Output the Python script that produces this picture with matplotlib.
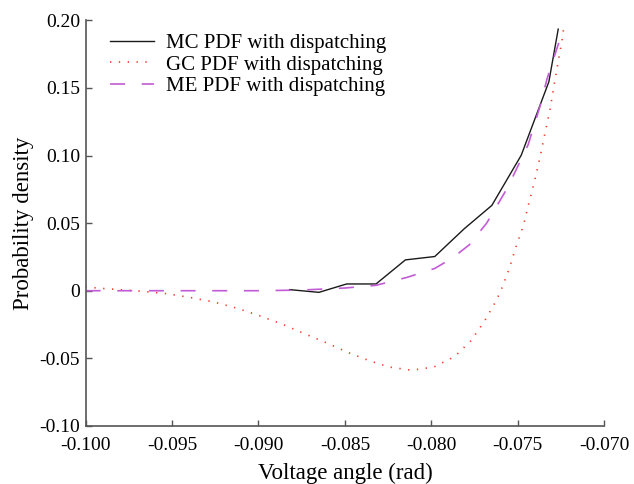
import numpy as np
import matplotlib.pyplot as plt

plt.rcParams['font.family'] = ['Liberation Serif', 'DejaVu Serif']

# MC PDF with dispatching (histogram-like, solid black)
mc_x = [-0.0882, -0.0865, -0.0849, -0.0832, -0.0815, -0.0798, -0.0781,
        -0.0765, -0.0748, -0.0732, -0.07266]
mc_y = [0.0008, -0.0012, 0.0050, 0.0050, 0.0228, 0.0253, 0.0458,
        0.0631, 0.1002, 0.1546, 0.1935]

# GC PDF with dispatching (dotted red)
gc_x = [-0.1000, -0.09935, -0.09665, -0.0953, -0.09395, -0.0926, -0.09134,
        -0.09008, -0.08854, -0.08728, -0.08602, -0.08481, -0.08356, -0.08246,
        -0.08114, -0.07985, -0.07865, -0.07772, -0.07695, -0.07627, -0.07598,
        -0.0755, -0.07511, -0.07467, -0.07434, -0.07401, -0.07371, -0.07343,
        -0.07314, -0.07293, -0.0727, -0.07245, -0.07235]
gc_y = [0.0030, 0.0020, -0.0005, -0.0022, -0.0050, -0.0083, -0.0126,
        -0.0178, -0.0252, -0.0321, -0.0388, -0.0457, -0.0519, -0.0564,
        -0.0588, -0.0564, -0.0487, -0.0371, -0.0230, -0.0079, 0.0000,
        0.0161, 0.0322, 0.0483, 0.0656, 0.0822, 0.0990, 0.1163,
        0.1336, 0.1497, 0.1670, 0.1843, 0.1935]

# ME PDF with dispatching (dashed magenta)
me_x = [-0.1000, -0.0950, -0.0900, -0.0875, -0.0850, -0.0832, -0.0814,
        -0.0798, -0.0788, -0.0778, -0.0768, -0.0756, -0.0744, -0.0737,
        -0.0733, -0.0727, -0.07235]
me_y = [0.0, 0.0, 0.0, 0.0005, 0.0020, 0.0040, 0.0099,
        0.0165, 0.0240, 0.0340, 0.0500, 0.0760, 0.1080, 0.1370,
        0.1570, 0.1806, 0.1935]

xticks = [-0.100, -0.095, -0.090, -0.085, -0.080, -0.075, -0.070]
xticklabels = ['-0.100', '-0.095', '-0.090', '-0.085', '-0.080', '-0.075', '-0.070']
yticks = [-0.10, -0.05, 0.0, 0.05, 0.10, 0.15, 0.20]
yticklabels = ['-0.10', '-0.05', '0', '0.05', '0.10', '0.15', '0.20']

fig = plt.figure(figsize=(6.34, 4.84), dpi=100)
ax = fig.add_axes([0.135, 0.120, 0.818, 0.838])

ax.plot(mc_x, mc_y, color='#1a1a1a', lw=1.0, label='MC PDF with dispatching')
ax.plot(gc_x, gc_y, color='#f03c28', lw=1.2, linestyle=(0, (0.8, 4.5)),
        label='GC PDF with dispatching')
ax.plot(me_x, me_y, color='#c25bd6', lw=1.2, linestyle=(0, (9, 10)),
        label='ME PDF with dispatching')

ax.set_xlim(-0.100, -0.070)
ax.set_ylim(-0.10, 0.20)
ax.set_xticks(xticks)
ax.set_xticklabels(xticklabels)
ax.set_yticks(yticks)
ax.set_yticklabels(yticklabels)
ax.tick_params(direction='in', length=4, width=1, color='#555555',
               labelsize=14, pad=4)
ax.tick_params(axis='x', pad=8)

for s in ['top', 'right']:
    ax.spines[s].set_visible(False)
for s in ['left', 'bottom']:
    ax.spines[s].set_color('#555555')
    ax.spines[s].set_linewidth(1.2)

ax.set_xlabel('Voltage angle (rad)', fontsize=16.5, labelpad=6)
ax.set_ylabel('Probability density', fontsize=16.5, labelpad=4)

ax.legend(loc='upper left', bbox_to_anchor=(0.048, 0.968), frameon=False,
          fontsize=15, handlelength=2.1, handletextpad=0.55,
          labelspacing=0.1, borderpad=0, borderaxespad=0)

fig.savefig('out.png', dpi=100)
